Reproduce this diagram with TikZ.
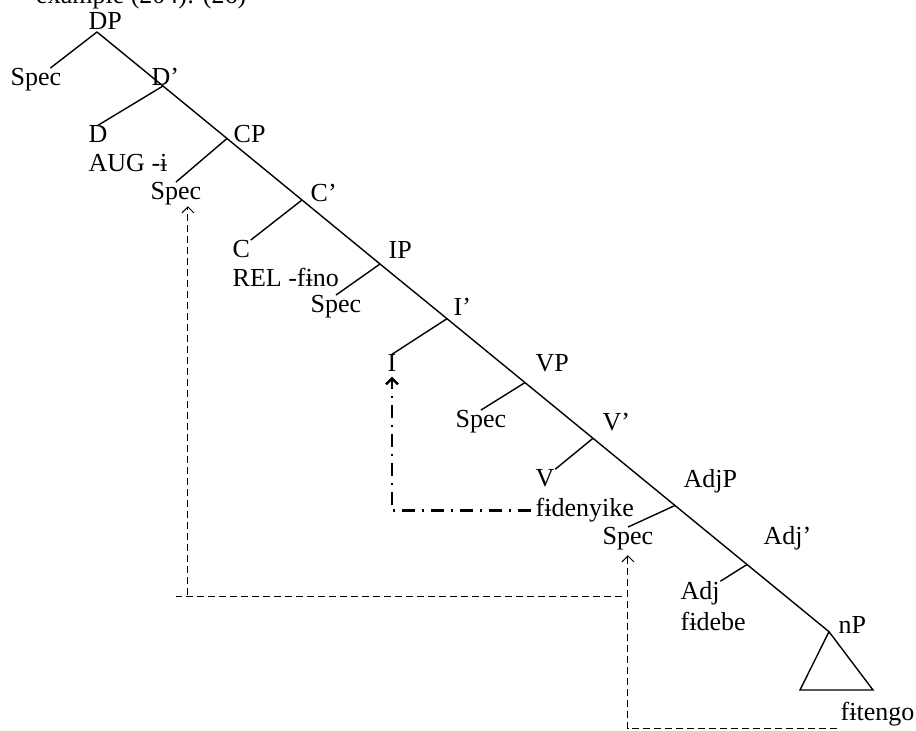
\documentclass[tikz,border=0pt]{standalone}
\usepackage{fontspec}
\setmainfont{Liberation Serif}
\usetikzlibrary{arrows.meta}

\begin{document}
\begin{tikzpicture}[x=0.5pt,y=-0.5pt,line width=0.7pt,
  font=\fontsize{13}{15}\selectfont,
  lbl/.style={anchor=base west,inner sep=0pt},
  trace/.style={line width=0.5pt,dash pattern=on 3.5pt off 2pt},
  move/.style={trace,-{Straight Barb[length=3pt,width=6pt]}},
  raise/.style={line width=1.2pt,dash pattern=on 6.5pt off 3.5pt on 1pt off 3.5pt,
    -{Straight Barb[length=3pt,width=6pt]}}]
\useasboundingbox (0,0) rectangle (916,731);
% caption line, cut off at the top
\node[anchor=base east,inner sep=0pt] (cap) at (247,4) {example (204): (26)};

% labels
\node[lbl] (dp) at (88,30) {DP};
\node[lbl] (spec1) at (10,86) {Spec};
\node[lbl] (dbar) at (151,86) {D’};
\node[lbl] (d) at (88,143) {D};
\node[lbl] (aug) at (88,172) {AUG -ɨ};
\node[lbl] (cp) at (233,143) {CP};
\node[lbl] (spec2) at (150,200) {Spec};
\node[lbl] (cbar) at (310,202) {C’};
\node[lbl] (c) at (232,258) {C};
\node[lbl] (rel) at (232,287) {REL -fɨno};
\node[lbl] (ip) at (388,259) {IP};
\node[lbl] (spec3) at (310,313) {Spec};
\node[lbl] (ibar) at (453,316) {I’};
\node[lbl] (i) at (387,372) {I};
\node[lbl] (vp) at (535,372) {VP};
\node[lbl] (spec4) at (455,428) {Spec};
\node[lbl] (vbar) at (602,431) {V’};
\node[lbl] (v) at (535,487) {V};
\node[lbl] (fden) at (535,517) {fɨdenyike};
\node[lbl] (adjp) at (683,488) {AdjP};
\node[lbl] (spec5) at (602,545) {Spec};
\node[lbl] (adjbar) at (763,545) {Adj’};
\node[lbl] (adj) at (680,600) {Adj};
\node[lbl] (fdebe) at (680,631) {fɨdebe};
\node[lbl] (np) at (838,634) {nP};
\node[lbl] (ften) at (840,720) {fɨtengo};

% branch points on the right edge
\coordinate (dpj) at (97,32);
\coordinate (dbarj) at (163,86);
\coordinate (cpj) at (227,138.5);
\coordinate (cbarj) at (302,200);
\coordinate (ipj) at (380,264);
\coordinate (ibarj) at (447,318.7);
\coordinate (vpj) at (525,382.6);
\coordinate (vbarj) at (593,438.3);
\coordinate (adjpj) at (675,505.5);
\coordinate (adjbarj) at (747,564.5);
\coordinate (npj) at (829,631.7);

\draw (dpj) -- (dbarj) -- (cpj) -- (cbarj) -- (ipj) -- (ibarj) -- (vpj)
  -- (vbarj) -- (adjpj) -- (adjbarj) -- (npj);
\draw (dpj) -- (spec1.40);
\draw (dbarj) -- (d.north);
\draw (cpj) -- (spec2.north);
\draw (cbarj) -- (c.north east);
\draw (ipj) -- (spec3.north);
\draw (ibarj) -- (i.north);
\draw (vpj) -- (spec4.north);
\draw (vbarj) -- (v.north east);
\draw (adjpj) -- (spec5.north);
\draw (adjbarj) -- (adj.north east);
% nP roof
\draw (npj) -- ++(-29,58.3) -- ++(73,0) -- cycle;

% movement
\coordinate (mv1) at (837,729);
\coordinate (mv2) at (622,597);
\coordinate (mv2e) at (176,597);
\draw[move,shorten >=2pt] (mv1) -| (spec5.south);
\draw[trace] (mv2) -- (mv2e);
\draw[move] ([xshift=6pt,yshift=1pt]spec2.south |- mv2) -- ([xshift=6pt]spec2.south);
\draw[raise,shorten <=2pt,shorten >=2pt] (fden.west) -| (i.south);
\end{tikzpicture}
\end{document}
